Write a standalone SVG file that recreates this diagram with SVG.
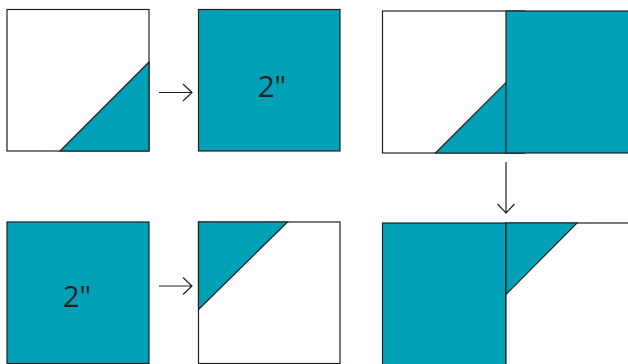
<svg xmlns="http://www.w3.org/2000/svg" width="628" height="364" viewBox="0 0 628 364">
<style>
.t{fill:#00a1b7}
.w{fill:#fff}
.s{stroke:#231f20;stroke-width:1.2}
.ln{fill:none;stroke:#231f20;stroke-width:1.2}
.lbl{font-family:"Open Sans","Liberation Sans",sans-serif;font-size:29px;fill:#231f20;text-anchor:middle}
</style>
<rect width="628" height="364" fill="#fff"/>
<g id="block1">
<rect class="w s" x="7" y="9.5" width="142" height="141.5"/>
<polygon class="t s" points="60,151 149,62 149,151"/>
</g>
<g id="square2top">
<rect class="t s" x="198.5" y="9.5" width="141.5" height="141.5"/>
<text class="lbl" x="272" y="97">2"</text>
</g>
<g id="block3">
<rect class="w s" x="382.5" y="11" width="142" height="142"/>
<polygon class="t s" points="435.5,153 524.5,64 524.5,153"/>
<rect class="t s" x="506" y="11" width="142" height="142"/>
</g>
<g id="square2bottom">
<rect class="t s" x="7" y="222" width="142" height="141.5"/>
<text class="lbl" x="77" y="307">2"</text>
</g>
<g id="block5">
<rect class="w s" x="198.5" y="222" width="141.5" height="141.5"/>
<polygon class="t s" points="198.5,222 287.5,222 198.5,309.5"/>
</g>
<g id="block6">
<rect class="t s" x="382.5" y="223" width="123.5" height="142"/>
<rect class="w s" x="506" y="223" width="142" height="142"/>
<polygon class="t s" points="506,223 577,223 506,294.5"/>
</g>
<g id="connectors">
<path class="ln" d="M159,92.5H192M183,84L192,92.5L183,101"/>
<path class="ln" d="M159,286H192M183,277.5L192,286L183,294.5"/>
<path class="ln" d="M506,162V213M497.5,204L506,213L514.5,204"/>
</g>
</svg>
